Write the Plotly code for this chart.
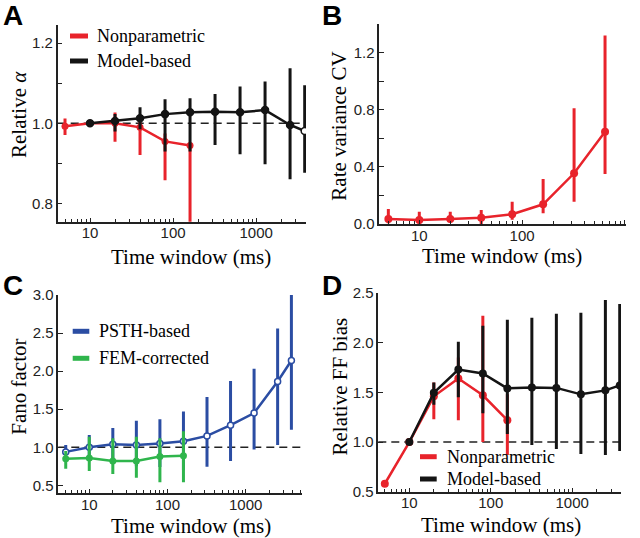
import numpy as np
import plotly.graph_objects as go

# ---------------- data ----------------
windows = [5, 10, 20, 40, 80, 160, 320, 640, 1280, 2560, 3840]

# Panel A: Relative alpha
a_np_x = [5, 10, 20, 40, 80, 160]
a_np_y = [0.993, 1.0, 1.0, 0.99, 0.955, 0.945]
a_np_hi = [1.012, 1.003, 1.027, 1.021, 0.975, 0.95]
a_np_lo = [0.971, 0.997, 0.954, 0.921, 0.858, 0.70]
a_mb_x = [10, 20, 40, 80, 160, 320, 640, 1280, 2560, 3840]
a_mb_y = [1.0, 1.006, 1.0125, 1.023, 1.0275, 1.029, 1.0275, 1.033, 0.996, 0.981]
a_mb_hi = [1.002, 1.023, 1.04, 1.06, 1.0625, 1.073, 1.092, 1.104, 1.1375, 1.095]
a_mb_lo = [0.998, 0.98, 0.985, 0.93, 0.93, 0.946, 0.923, 0.898, 0.861, 0.877]

# Panel B: Rate variance CV
b_x = [5, 10, 20, 40, 80, 160, 320, 640]
b_y = [0.035, 0.028, 0.035, 0.044, 0.068, 0.138, 0.355, 0.645]
b_hi = [0.105, 0.086, 0.085, 0.098, 0.156, 0.315, 0.81, 1.32]
b_lo = [0.005, 0.0, 0.01, 0.0, 0.03, 0.075, 0.156, 0.35]

# Panel C: Fano factor
c_psth_x = [5, 10, 20, 40, 80, 160, 320, 640, 1280, 2560, 3840]
c_psth_y = [0.94, 1.0, 1.04, 1.03, 1.05, 1.08, 1.15, 1.29, 1.45, 1.865, 2.14]
c_psth_hi = [1.03, 1.16, 1.255, 1.35, 1.37, 1.47, 1.66, 1.87, 2.03, 2.56, 3.0]
c_psth_lo = [0.9, 0.85, 0.82, 0.75, 0.74, 0.7, 0.745, 0.82, 0.97, 1.03, 1.23]
c_fem_x = [5, 10, 20, 40, 80, 160]
c_fem_y = [0.85, 0.86, 0.82, 0.82, 0.88, 0.89]
c_fem_hi = [0.95, 1.14, 1.12, 1.14, 1.12, 1.21]
c_fem_lo = [0.72, 0.69, 0.65, 0.6, 0.54, 0.54]

# Panel D: Relative FF bias
d_np_x = [5, 10, 20, 40, 80, 160]
d_np_y = [0.58, 1.0, 1.46, 1.64, 1.47, 1.22]
d_np_hi = [0.6, 1.0, 1.6, 1.85, 2.27, 1.48]
d_np_lo = [0.56, 1.0, 1.23, 1.22, 1.0, 0.87]
d_mb_x = [10, 20, 40, 80, 160, 320, 640, 1280, 2560, 3840]
d_mb_y = [1.0, 1.495, 1.73, 1.69, 1.54, 1.55, 1.545, 1.48, 1.52, 1.57]
d_mb_hi = [1.0, 1.60, 2.01, 2.17, 2.23, 2.25, 2.29, 2.30, 2.43, 2.39]
d_mb_lo = [1.0, 1.375, 1.45, 1.29, 1.08, 0.97, 0.93, 0.88, 0.87, 0.91]

x_tick_vals = [10, 100, 1000]
x_tick_text = ["10", "100", "1000"]
x_minor_vals = [m * 10 ** e for e in range(0, 4) for m in range(2, 10)]

# ---------------- style ----------------
RED = "#E8232B"
BLACK = "#141414"
BLUE = "#2B4DA3"
GREEN = "#2FB54C"
AXC = "#222222"
SERIF = "Liberation Serif, Times New Roman, serif"
SANS = "Liberation Sans, Arial, sans-serif"

W, H = 640, 538


def px(x):
    return x / W


def py(y):
    return 1 - y / H


fig = go.Figure()


def series(x, y, hi, lo, color, xa, ya, size=7, fill=None, lw=2.5, mline=0):
    y = np.array(y)
    hi = np.array(hi)
    lo = np.array(lo)
    fig.add_trace(go.Scatter(
        x=x, y=y, mode="lines+markers", xaxis=xa, yaxis=ya, showlegend=False,
        line=dict(color=color, width=lw),
        marker=dict(size=size, color=fill if fill is not None else color,
                    line=dict(color=color, width=mline)),
        error_y=dict(type="data", symmetric=False, array=hi - y, arrayminus=y - lo,
                     thickness=3, width=0, color=color),
    ))


# Panel A
series(a_np_x, a_np_y, a_np_hi, a_np_lo, RED, "x", "y", size=7)
series(a_mb_x, a_mb_y, a_mb_hi, a_mb_lo, BLACK, "x", "y", size=7,
       fill=[BLACK] * 9 + ["white"], mline=1.5)
# Panel B
series(b_x, b_y, b_hi, b_lo, RED, "x2", "y2", size=8)
# Panel C
series(c_psth_x, c_psth_y, c_psth_hi, c_psth_lo, BLUE, "x3", "y3", size=6,
       fill="white", mline=1.5)
series(c_fem_x, c_fem_y, c_fem_hi, c_fem_lo, GREEN, "x3", "y3", size=7)
# Panel D
series(d_np_x, d_np_y, d_np_hi, d_np_lo, RED, "x4", "y4", size=8)
series(d_mb_x, d_mb_y, d_mb_hi, d_mb_lo, BLACK, "x4", "y4", size=8)

# plot areas in pixels: (left, right, top, bottom)
areas = {
    "": (57.7, 306, 25, 221.7),
    "2": (379.3, 626, 24, 224),
    "3": (58.3, 301.7, 295, 493),
    "4": (378.3, 621, 293, 491.7),
}
xranges = {"": [0.611, 3.60], "2": [0.611, 3.01], "3": [0.604, 3.716], "4": [0.619, 3.60]}
yaxes_cfg = {
    "": dict(range=[0.755, 1.245], tick0=0.8, dtick=0.2, minor=dict(tick0=0.8, dtick=0.1)),
    "2": dict(range=[0, 1.4], tick0=0, dtick=0.4, minor=dict(tick0=0, dtick=0.2)),
    "3": dict(range=[0.4, 3.0], tick0=0.5, dtick=0.5),
    "4": dict(range=[0.5, 2.5], tick0=0.5, dtick=0.5),
}

layout = dict(
    width=W, height=H, margin=dict(l=0, r=0, t=0, b=0),
    paper_bgcolor="white", plot_bgcolor="white", showlegend=False,
    font=dict(family=SANS, size=15, color=AXC),
)
for k, (l, r, t, b) in areas.items():
    layout["xaxis" + k] = dict(
        type="log", range=xranges[k], domain=[px(l), px(r)],
        anchor="y" + k, showgrid=False, zeroline=False,
        showline=True, linecolor=AXC, linewidth=1.5,
        tickmode="array", tickvals=x_tick_vals, ticktext=x_tick_text,
        ticks="inside", ticklen=4, tickwidth=1.3, tickcolor=AXC,
        ticklabelstandoff=-3,
        minor=dict(tickmode="array", tickvals=x_minor_vals, ticks="inside",
                   ticklen=3, tickwidth=1.2, tickcolor=AXC, showgrid=False),
        tickfont=dict(family=SANS, size=15, color=AXC), automargin=False,
    )
    ycfg = yaxes_cfg[k]
    minor = ycfg.get("minor")
    yd = dict(
        range=ycfg["range"], domain=[py(b), py(t)], anchor="x" + k,
        showgrid=False, zeroline=False, showline=True, linecolor=AXC, linewidth=1.5,
        tickmode="linear", tick0=ycfg["tick0"], dtick=ycfg["dtick"], tickformat=".1f",
        ticks="inside", ticklen=5, tickwidth=1.3, tickcolor=AXC,
        tickfont=dict(family=SANS, size=15, color=AXC), automargin=False,
    )
    if minor:
        yd["minor"] = dict(tickmode="linear", tick0=minor["tick0"], dtick=minor["dtick"],
                           ticks="inside", ticklen=5, tickwidth=1.3, tickcolor=AXC,
                           showgrid=False)
    layout["yaxis" + k] = yd

fig.update_layout(**layout)

# dashed reference lines at 1
for k in ["", "3", "4"]:
    fig.add_shape(type="line", xref=("x" + k) + " domain", yref="y" + k,
                  x0=0, x1=1, y0=1, y1=1, layer="below",
                  line=dict(color=AXC, width=1.5, dash="8px,5px"))

annotations = []
# panel letters
for letter, (cx, cy) in {"A": (12.5, 15), "B": (331.7, 15), "C": (13.3, 285), "D": (332.3, 285)}.items():
    annotations.append(dict(text="<b>%s</b>" % letter, x=px(cx), y=py(cy), xref="paper",
                            yref="paper", showarrow=False, xanchor="center", yanchor="middle",
                            font=dict(family=SANS, size=28, color="black")))
# axis titles
xt = "Time window (ms)"
for (cx, cy) in [(191, 257), (501.7, 256), (191, 526), (500.8, 524.5)]:
    annotations.append(dict(text=xt, x=px(cx), y=py(cy), xref="paper", yref="paper",
                            showarrow=False, xanchor="center", yanchor="middle",
                            font=dict(family=SERIF, size=21, color="black")))
for text, (cx, cy) in [("Relative <i>α</i>", (19, 115)), ("Rate variance CV", (339, 126.7)),
                       ("Fano factor", (19, 386.7)), ("Relative FF bias", (339, 386.5))]:
    annotations.append(dict(text=text, x=px(cx), y=py(cy), xref="paper", yref="paper",
                            showarrow=False, xanchor="center", yanchor="middle", textangle=-90,
                            font=dict(family=SERIF, size=21, color="black")))

# legends (symbol line + text)
legends = [
    (70, 88, 95, [(36, RED, "Nonparametric"), (61, BLACK, "Model-based")]),
    (72.7, 89.3, 96.7, [(331.3, BLUE, "PSTH-based"), (358.3, GREEN, "FEM-corrected")]),
    (420, 436.7, 445, [(456.7, RED, "Nonparametric"), (479, BLACK, "Model-based")]),
]
for x0, x1, tx, items in legends:
    for (yy, col, label) in items:
        fig.add_shape(type="line", xref="paper", yref="paper", x0=px(x0), x1=px(x1),
                      y0=py(yy), y1=py(yy), line=dict(color=col, width=5))
        annotations.append(dict(text=label, x=px(tx), y=py(yy), xref="paper", yref="paper",
                                showarrow=False, xanchor="left", yanchor="middle",
                                font=dict(family=SERIF, size=18, color="black")))

fig.update_layout(annotations=annotations)
fig.write_html("out.html", config={"displayModeBar": False},
               post_script="document.body.style.margin='0px';")
